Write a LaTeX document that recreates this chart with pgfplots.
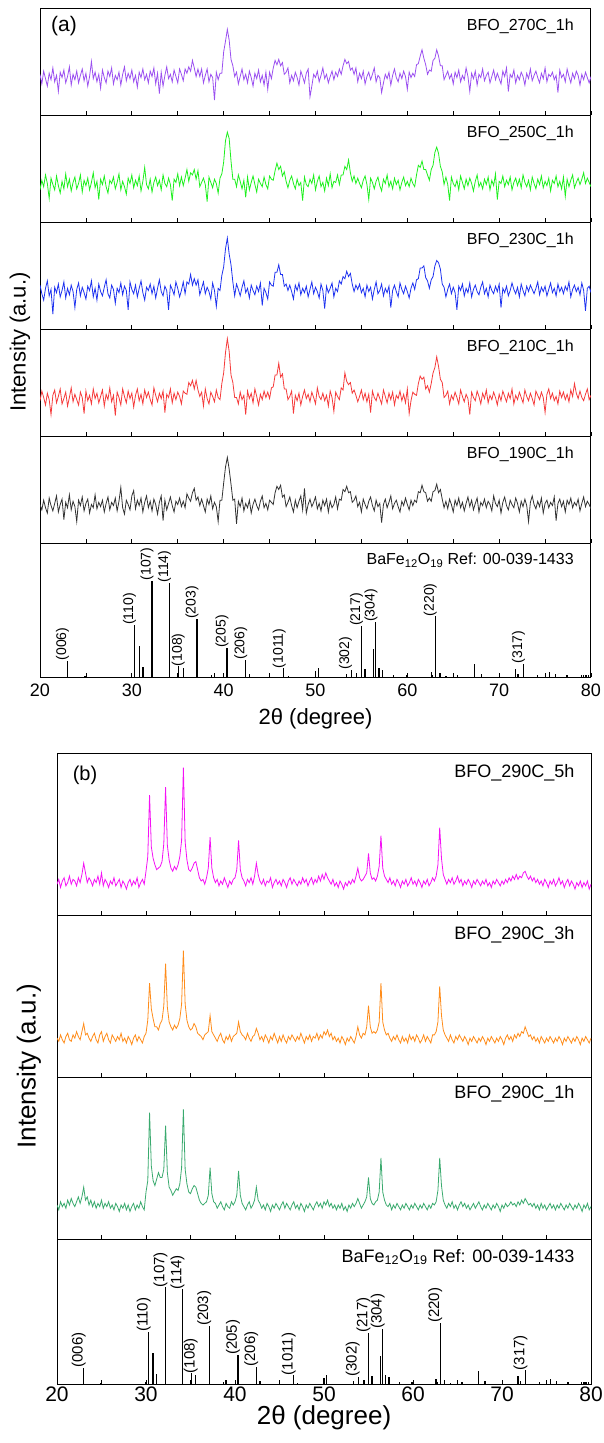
\documentclass[border=0pt]{standalone}
\usepackage{fontspec}
\setmainfont{Liberation Sans}
\usepackage{pgfplots}
\pgfplotsset{compat=1.18}
\usepackage{pgfplotstable}

\definecolor{cP}{HTML}{9B50F0}
\definecolor{cG}{HTML}{1EF01E}
\definecolor{cB}{HTML}{1E32F0}
\definecolor{cR}{HTML}{F53B3B}
\definecolor{cK}{HTML}{333333}
\definecolor{cM}{HTML}{F512F5}
\definecolor{cO}{HTML}{FF8C1A}
\definecolor{cT}{HTML}{3AAA6E}

% panel (a): 1 h samples, intensity in % of panel height
\pgfplotstableread{
x p270 p250 p230 p210 p190
20.0 38 30 41 33 36
20.2 29 39 33 42 31
20.4 41 33 27 36 40
20.6 34 44 38 29 33
20.8 27 36 45 40 28
21.0 39 22 31 34 42
21.2 33 41 37 20 35
21.4 44 35 14 38 30
21.6 31 30 39 43 37
21.8 37 43 34 31 44
22.0 22 34 42 37 29
22.2 40 27 30 44 36
22.4 35 38 36 30 41
22.6 42 31 44 35 22
22.8 30 45 29 41 38
23.0 36 33 38 28 33
23.2 45 40 32 36 45
23.4 28 29 41 45 31
23.6 38 37 35 32 39
23.8 33 42 20 39 34
24.0 41 31 37 34 20
24.2 30 36 43 29 40
24.4 37 44 31 41 35
24.6 43 28 39 36 43
24.8 32 39 34 21 30
25.0 39 34 28 42 37
25.2 27 41 40 33 41
25.4 36 30 36 38 28
25.6 50 37 45 30 36
25.8 34 46 30 44 33
26.0 40 32 38 35 45
26.2 31 38 27 40 32
26.4 38 21 42 31 38
26.6 25 40 35 37 34
26.8 42 35 31 43 40
27.0 35 43 39 28 29
27.2 30 33 46 39 37
27.4 41 27 33 34 43
27.6 36 39 29 45 31
27.8 44 36 41 32 38
28.0 29 42 37 38 35
28.2 37 31 24 19 42
28.4 33 37 38 41 30
28.6 40 45 34 36 39
28.8 28 30 43 29 52
29.0 38 38 32 44 33
29.2 45 33 40 37 27
29.4 32 26 36 31 40
29.6 39 41 18 42 36
29.8 34 36 44 35 31
30.0 42 44 37 40 44
30.2 31 32 33 27 49
30.4 37 39 41 38 32
30.6 26 34 30 44 40
30.8 40 43 38 33 35
31.0 35 29 45 39 42
31.2 43 38 34 30 29
31.4 33 51 27 43 38
31.6 38 35 39 36 44
31.8 30 31 36 41 33
32.0 41 40 42 34 39
32.2 36 28 33 29 30
32.4 44 37 40 45 41
32.6 29 42 29 38 36
32.8 39 34 38 32 27
33.0 20 39 46 40 38
33.2 40 30 35 35 44
33.4 27 44 31 42 21
33.6 37 36 40 22 40
33.8 45 33 36 39 31
34.0 34 41 18 36 37
34.2 38 35 41 44 43
34.4 31 20 37 31 35
34.6 42 40 32 40 29
34.8 36 37 44 34 39
35.0 30 45 38 41 36
35.2 43 34 30 37 42
35.4 38 42 36 30 34
35.6 32 34 44 42 39
35.8 43 41 33 40 33
36.0 39 49 44 39 46
36.2 45 38 42 50 42
36.4 41 46 51 47 39
36.6 51 44 41 52 47
36.8 44 49 47 44 51
37.0 36 40 41 52 40
37.2 43 48 46 43 43
37.4 36 33 32 37 35
37.6 43 37 38 41 41
37.8 30 41 44 28 35
38.0 37 35 33 44 29
38.2 43 19 39 35 41
38.4 31 42 35 30 36
38.6 38 37 28 41 44
38.8 35 32 43 37 32
39.0 14 40 36 32 38
39.2 40 36 21 43 34
39.4 33 27 38 36 20
39.6 39 41 36 34 40
39.8 39 45 50 49 40
40.0 59 56 58 59 56
40.2 69 76 75 78 71
40.4 80 84 85 91 80
40.6 70 78 70 79 69
40.8 52 57 60 57 55
41.0 46 40 44 50 40
41.2 36 40 31 36 41
41.4 40 33 42 36 18
41.6 29 44 37 30 39
41.8 36 38 31 41 34
42.0 43 31 39 34 42
42.2 33 39 45 38 30
42.4 38 23 34 20 37
42.6 30 42 38 42 33
42.8 41 30 29 35 40
43.0 35 37 41 40 28
43.2 27 43 36 31 36
43.4 39 35 32 44 41
43.6 34 28 40 37 35
43.8 42 40 35 29 31
44.0 31 36 43 39 39
44.2 37 33 22 34 44
44.4 28 42 38 42 33
44.6 40 35 34 36 37
44.8 24 31 28 41 31
45.0 40 43 44 35 40
45.2 34 40 41 45 38
45.4 44 39 40 46 36
45.6 51 48 53 57 47
45.8 47 55 53 57 53
46.0 52 49 60 68 50
46.2 46 52 51 55 54
46.4 49 43 51 58 43
46.6 38 47 40 44 45
46.8 40 38 42 44 34
47.0 44 32 36 34 38
47.2 30 39 41 37 43
47.4 37 43 35 42 35
47.6 32 36 28 21 29
47.8 40 31 41 38 40
48.0 35 40 36 33 33
48.2 28 34 43 40 39
48.4 41 37 32 29 44
48.6 36 20 38 37 31
48.8 30 42 34 43 51
49.0 39 35 40 35 28
49.2 43 33 30 39 36
49.4 17 40 37 32 41
49.6 27 36 44 41 34
49.8 38 44 33 36 38
50.0 35 30 39 30 43
50.2 41 38 35 45 32
50.4 31 43 29 37 37
50.6 37 33 42 34 30
50.8 44 37 36 40 40
51.0 34 29 19 33 35
51.2 38 41 40 38 41
51.4 30 34 34 28 29
51.6 36 45 38 42 39
51.8 41 32 43 36 33
52.0 33 38 30 23 36
52.2 40 37 38 41 43
52.4 36 44 35 37 32
52.6 43 35 45 34 41
52.8 38 44 42 45 40
53.0 46 44 49 43 50
53.2 52 52 47 59 48
53.4 48 49 54 51 53
53.6 50 58 49 48 47
53.8 42 46 52 50 48
54.0 44 38 42 40 38
54.2 38 43 35 43 40
54.4 44 36 41 38 44
54.6 31 41 37 32 34
54.8 39 36 42 37 38
55.0 34 32 34 43 29
55.2 41 39 38 34 41
55.4 29 43 30 40 36
55.6 36 35 41 32 32
55.8 40 21 35 39 39
56.0 33 41 39 22 43
56.2 38 37 28 42 35
56.4 44 31 37 36 30
56.6 31 38 44 33 40
56.8 37 42 33 40 34
57.0 35 34 36 35 37
57.2 21 29 42 30 19
57.4 30 40 31 43 36
57.6 38 36 38 37 41
57.8 34 44 34 31 33
58.0 40 33 40 40 38
58.2 28 38 20 34 44
58.4 37 31 36 41 32
58.6 43 41 41 29 37
58.8 35 35 35 38 40
59.0 31 39 30 35 34
59.2 39 30 43 42 29
59.4 34 37 37 33 39
59.6 41 42 33 39 35
59.8 36 34 40 31 42
60.0 24 38 35 44 36
60.2 40 33 29 21 31
60.4 35 41 38 33 40
60.6 39 36 43 41 35
60.8 36 33 37 39 40
61.0 47 44 46 38 38
61.2 48 53 47 49 48
61.4 55 51 57 56 47
61.6 61 57 57 53 54
61.8 53 49 59 55 48
62.0 47 49 48 44 47
62.2 38 44 45 47 39
62.4 42 39 38 41 42
62.6 41 49 46 49 39
62.8 51 53 49 59 48
63.0 53 65 59 64 49
63.2 61 70 64 74 55
63.4 55 64 62 65 47
63.6 46 52 56 53 50
63.8 46 47 42 50 41
64.0 33 35 39 36 33
64.2 37 42 30 38 39
64.4 41 35 37 42 32
64.6 34 20 42 30 41
64.8 38 42 33 38 36
65.0 29 36 39 34 29
65.2 40 33 34 41 40
65.4 35 39 18 36 35
65.6 42 30 40 30 42
65.8 31 43 36 43 33
66.0 37 37 42 37 38
66.2 33 31 31 32 30
66.4 44 40 38 39 37
66.6 36 34 34 35 43
66.8 22 41 43 20 34
67.0 39 36 30 41 40
67.2 34 29 37 36 31
67.4 41 38 41 33 37
67.6 28 44 35 42 42
67.8 38 33 32 37 29
68.0 35 37 39 30 38
68.2 43 31 44 40 35
68.4 32 40 33 35 41
68.6 37 35 38 43 33
68.8 40 42 30 31 39
69.0 30 30 41 38 36
69.2 36 39 36 34 30
69.4 42 34 33 41 44
69.6 33 45 40 36 37
69.8 39 21 35 29 34
70.0 34 38 42 39 40
70.2 29 36 20 33 28
70.4 41 43 38 42 38
70.6 36 33 34 37 43
70.8 44 39 40 32 35
71.0 22 35 31 40 31
71.2 38 42 36 35 40
71.4 35 30 43 44 36
71.6 42 37 37 30 33
71.8 30 41 33 38 42
72.0 37 34 39 34 37
72.2 33 40 30 41 29
72.4 40 32 42 36 39
72.6 36 44 36 31 34
72.8 28 37 31 43 41
73.0 39 33 40 37 35
73.2 34 39 35 33 20
73.4 43 30 41 40 38
73.6 32 42 37 35 44
73.8 37 36 33 29 36
74.0 41 31 38 42 32
74.2 35 40 44 38 39
74.4 30 35 32 34 34
74.6 39 43 39 41 42
74.8 34 32 35 36 28
75.0 44 38 40 22 37
75.2 31 34 31 39 40
75.4 38 41 37 44 33
75.6 36 29 43 35 38
75.8 40 39 34 40 35
76.0 33 36 38 33 43
76.2 37 43 31 37 21
76.4 21 33 42 30 37
76.6 42 38 35 42 41
76.8 35 31 39 36 34
77.0 38 42 33 41 39
77.2 31 24 40 34 29
77.4 43 40 36 39 40
77.6 36 33 44 32 36
77.8 30 39 30 43 42
78.0 39 44 37 37 33
78.2 34 32 41 49 38
78.4 41 37 35 40 35
78.6 37 41 39 35 41
78.8 28 35 32 42 30
79.0 38 40 43 36 37
79.2 33 46 36 33 43
79.4 40 36 17 39 34
79.6 35 41 38 44 39
79.8 30 37 40 34 36
80.0 36 33 34 38 32
}\dataA

% panel (b): 290 C samples
\pgfplotstableread{
x h5 h3 h1
20.0 19 24 21
20.2 22 22 18
20.4 17 26 23
20.6 21 23 20
20.8 23 21 22
21.0 18 25 19
21.2 20 27 24
21.4 24 23 21
21.6 19 22 25
21.8 22 26 22
22.0 21 24 20
22.2 18 28 23
22.4 23 25 26
22.6 20 23 22
22.8 25 28 26
23.0 32 33 32
23.2 26 26 24
23.4 20 27 26
23.6 23 24 21
23.8 21 22 24
24.0 18 25 20
24.2 22 27 23
24.4 20 23 19
24.6 24 21 22
24.8 19 26 20
25.0 26 28 24
25.2 18 22 19
25.4 22 25 22
25.6 20 27 20
25.8 17 23 23
26.0 21 21 19
26.2 19 26 21
26.4 23 24 18
26.6 18 22 22
26.8 20 25 20
27.0 22 23 17
27.2 17 27 21
27.4 21 22 19
27.6 19 24 22
27.8 16 21 18
28.0 20 25 21
28.2 22 23 17
28.4 18 20 20
28.6 21 24 22
28.8 19 26 18
29.0 23 22 21
29.2 17 25 19
29.4 20 23 23
29.6 22 21 20
29.8 19 25 18
30.0 27 27 29
30.2 36 35 36
30.4 74 58 78
30.6 42 42 45
30.8 35 36 36
31.0 31 31 33
31.2 28 31 37
31.4 29 29 41
31.6 30 33 38
31.8 33 35 38
32.0 44 44 43
32.2 79 70 70
32.4 43 43 41
32.6 34 34 32
32.8 29 31 30
33.0 27 29 27
33.2 30 32 29
33.4 28 30 31
33.6 31 32 30
33.8 36 36 34
34.0 46 45 44
34.2 91 78 80
34.4 45 45 43
34.6 34 35 34
34.8 28 31 29
35.0 27 29 28
35.2 29 30 31
35.4 32 33 33
35.6 33 31 32
35.8 28 27 28
36.0 23 26 24
36.2 21 25 22
36.4 22 23 21
36.6 19 26 22
36.8 23 27 23
37.0 29 28 27
37.2 48 38 44
37.4 29 28 28
37.6 23 26 23
37.8 20 24 22
38.0 22 22 19
38.2 18 25 21
38.4 21 27 23
38.6 19 23 20
38.8 23 21 18
39.0 20 25 22
39.2 17 23 20
39.4 21 26 19
39.6 19 22 23
39.8 22 25 21
40.0 23 26 23
40.2 28 27 27
40.4 46 34 42
40.6 28 28 27
40.8 23 26 22
41.0 21 25 20
41.2 18 23 18
41.4 22 27 21
41.6 20 24 23
41.8 23 22 19
42.0 19 25 21
42.2 24 26 24
42.4 32 30 32
42.6 25 27 24
42.8 21 23 22
43.0 19 25 19
43.2 22 22 21
43.4 18 26 18
43.6 21 24 22
43.8 20 21 20
44.0 23 25 17
44.2 17 23 21
44.4 20 27 19
44.6 22 24 22
44.8 19 21 20
45.0 21 25 18
45.2 18 22 21
45.4 22 26 23
45.6 20 23 19
45.8 17 21 22
46.0 21 25 20
46.2 23 23 18
46.4 19 26 21
46.6 22 24 23
46.8 20 22 19
47.0 18 25 21
47.2 21 23 18
47.4 19 27 22
47.6 23 24 20
47.8 20 21 17
48.0 22 25 21
48.2 18 23 19
48.4 21 26 22
48.6 23 22 20
48.8 19 25 18
49.0 22 24 21
49.2 20 27 23
49.4 24 23 20
49.6 21 26 22
49.8 25 24 19
50.0 22 28 23
50.2 26 26 21
50.4 23 29 24
50.6 21 25 20
50.8 19 27 22
51.0 22 23 19
51.2 18 25 21
51.4 20 22 18
51.6 17 24 21
51.8 21 21 19
52.0 19 25 22
52.2 16 23 18
52.4 20 20 20
52.6 18 24 17
52.8 21 22 21
53.0 19 25 19
53.2 22 23 22
53.4 20 21 20
53.6 24 25 22
53.8 29 31 25
54.0 23 26 22
54.2 21 24 19
54.4 22 27 21
54.6 24 26 23
54.8 26 31 26
55.0 38 44 38
55.2 26 31 25
55.4 22 27 22
55.6 23 28 21
55.8 21 27 23
56.0 24 29 24
56.2 30 34 29
56.4 49 58 50
56.6 29 34 29
56.8 24 29 24
57.0 22 26 21
57.2 20 27 20
57.4 23 24 22
57.6 19 22 18
57.8 21 25 21
58.0 18 23 19
58.2 22 26 22
58.4 20 23 20
58.6 17 21 18
58.8 21 25 21
59.0 19 22 19
59.2 22 24 22
59.4 18 21 20
59.6 20 26 18
59.8 23 23 21
60.0 19 25 19
60.2 21 22 22
60.4 18 26 20
60.6 22 24 18
60.8 20 21 21
61.0 17 23 19
61.2 21 26 22
61.4 19 22 20
61.6 22 25 18
61.8 18 23 21
62.0 20 21 19
62.2 23 26 22
62.4 21 26 21
62.6 24 28 23
62.8 31 34 30
63.0 54 56 50
63.2 35 38 33
63.4 25 29 24
63.6 22 26 21
63.8 19 24 19
64.0 22 22 22
64.2 20 26 20
64.4 23 23 23
64.6 19 21 19
64.8 21 25 21
65.0 24 23 18
65.2 20 26 21
65.4 22 24 23
65.6 18 22 20
65.8 21 25 22
66.0 19 23 19
66.2 22 20 21
66.4 20 24 18
66.6 17 22 20
66.8 21 25 22
67.0 19 23 19
67.2 22 21 21
67.4 20 24 23
67.6 18 22 20
67.8 21 25 18
68.0 19 23 21
68.2 22 20 19
68.4 18 24 22
68.6 20 22 20
68.8 17 25 18
69.0 21 23 21
69.2 19 21 19
69.4 22 24 22
69.6 20 22 20
69.8 18 25 17
70.0 21 23 21
70.2 19 20 19
70.4 22 24 22
70.6 20 26 20
70.8 23 23 21
71.0 21 25 23
71.2 24 22 21
71.4 22 26 22
71.6 25 24 20
71.8 22 27 23
72.0 24 25 21
72.2 23 28 24
72.4 26 27 22
72.6 27 31 25
72.8 24 28 23
73.0 22 25 21
73.2 24 26 22
73.4 21 23 20
73.6 23 25 22
73.8 20 22 19
74.0 22 24 21
74.2 19 21 18
74.4 21 25 22
74.6 18 23 19
74.8 22 21 21
75.0 20 24 18
75.2 17 22 20
75.4 21 25 22
75.6 19 23 19
75.8 22 21 21
76.0 18 24 18
76.2 20 22 21
76.4 23 25 19
76.6 19 23 22
76.8 21 20 20
77.0 17 24 18
77.2 20 22 21
77.4 22 25 19
77.6 18 23 22
77.8 21 21 20
78.0 19 24 18
78.2 16 22 21
78.4 20 25 19
78.6 18 23 22
78.8 21 20 20
79.0 17 24 17
79.2 20 22 21
79.4 18 25 19
79.6 21 23 22
79.8 16 21 18
80.0 19 24 20
}\dataB

% reference pattern 00-039-1433, relative intensity
\pgfplotstableread{
x I
23.0 17
24.9 1
29.95 2
30.3 54
30.8 32
31.2 10
32.2 100
34.1 98
35.1 11
35.6 9.5
37.1 60
38.7 2
39.0 4
40.35 30
42.4 18
42.8 3
46.55 9
47.05 1.5
50.0 6
50.3 9.5
53.35 3
53.9 7.5
54.5 4
55.0 53
55.4 8.5
56.35 29
56.55 57
56.9 9.5
57.3 7
58.5 2.5
59.9 2.5
60.05 2
62.6 5
62.75 2.5
63.05 63
63.55 4
64.2 1
65.5 2.5
67.35 13
68.1 3.5
71.8 8.5
72.05 3.5
72.65 14
74.2 2.5
75.45 5
76.1 3.5
77.4 2.5
78.95 2.5
79.2 2.5
79.45 2.5
79.7 2.5
}\refpat

\newcommand{\hkl}[4]{\node[rotate=90, anchor=west, inner sep=0pt, yshift=5pt,
  font=\fontsize{#4}{#4}\selectfont] at (axis cs:#1,#2) {#3};}

\pgfplotsset{
  xrd/.style={
    scale only axis, anchor=south west,
    xmin=20, xmax=80, ymin=0, ymax=100,
    ytick=\empty, xtick={20,30,...,80}, minor xtick={25,35,...,75},
    xtick pos=bottom, tick align=inside,
    major tick length=4pt, minor tick length=4pt,
    tick style={black, line width=0.8pt},
    axis line style={black, line width=1pt},
    /pgf/number format/assume math mode=true,
  },
  panelA/.style={xrd, width=551pt, height=107pt, xticklabels={}},
  panelB/.style={xrd, width=534pt, height=162pt, xticklabels={}},
}

\begin{document}
\begin{tikzpicture}
\path[use as bounding box] (0pt,0pt) rectangle (604pt,-1443pt);

% ---------- (a) ----------
\begin{axis}[panelA, at={(40pt,-115pt)}]
\addplot[cP, line width=0.8pt] table[x=x, y=p270] {\dataA};
\node[anchor=east, font=\fontsize{16}{16}\selectfont] at (rel axis cs:0.975,0.832) {BFO\_270C\_1h};
\node[font=\fontsize{21}{21}\selectfont] at (rel axis cs:0.0436,0.832) {(a)};
\end{axis}

\begin{axis}[panelA, at={(40pt,-222pt)}]
\addplot[cG, line width=0.8pt] table[x=x, y=p250] {\dataA};
\node[anchor=east, font=\fontsize{16}{16}\selectfont] at (rel axis cs:0.975,0.832) {BFO\_250C\_1h};
\end{axis}

\begin{axis}[panelA, at={(40pt,-329pt)}]
\addplot[cB, line width=0.8pt] table[x=x, y=p230] {\dataA};
\node[anchor=east, font=\fontsize{16}{16}\selectfont] at (rel axis cs:0.975,0.832) {BFO\_230C\_1h};
\end{axis}

\begin{axis}[panelA, at={(40pt,-436pt)}]
\addplot[cR, line width=0.8pt] table[x=x, y=p210] {\dataA};
\node[anchor=east, font=\fontsize{16}{16}\selectfont] at (rel axis cs:0.975,0.832) {BFO\_210C\_1h};
\end{axis}

\begin{axis}[panelA, at={(40pt,-543pt)}]
\addplot[cK, line width=0.8pt] table[x=x, y=p190] {\dataA};
\node[anchor=east, font=\fontsize{16}{16}\selectfont] at (rel axis cs:0.975,0.832) {BFO\_190C\_1h};
\end{axis}

\begin{axis}[xrd, width=551pt, height=134pt, ymax=139, at={(40pt,-677pt)},
  xticklabels={20,30,40,50,60,70,80},
  xticklabel style={font=\fontsize{18}{18}\selectfont, yshift=-3pt}]
\addplot[ycomb, black, line width=1.3pt] table[x=x, y=I] {\refpat};
\node[anchor=east, font=\fontsize{16}{16}\selectfont] at (rel axis cs:0.975,0.873)
  {BaFe\textsubscript{12}O\textsubscript{19} Ref: 00-039-1433};
\hkl{23.0}{17}{(006)}{14}
\hkl{30.3}{54}{(110)}{14}
\hkl{32.2}{100}{(107)}{14}
\hkl{34.1}{98}{(114)}{14}
\hkl{35.6}{11}{(108)}{14}
\hkl{37.1}{60}{(203)}{14}
\hkl{40.35}{30}{(205)}{14}
\hkl{42.4}{18}{(206)}{14}
\hkl{46.6}{9}{(1011)}{14}
\hkl{53.8}{7.5}{(302)}{14}
\hkl{55.0}{53}{(217)}{14}
\hkl{56.6}{57}{(304)}{14}
\hkl{63.05}{63}{(220)}{14}
\hkl{72.65}{14}{(317)}{14}
\end{axis}

\node[font=\fontsize{22}{22}\selectfont] at (315.5pt,-719pt) {2θ (degree)};
\node[rotate=90, font=\fontsize{22}{22}\selectfont] at (20pt,-342pt) {Intensity (a.u.)};

% ---------- (b) ----------
\begin{axis}[panelB, at={(57pt,-915pt)}]
\addplot[cM, line width=0.8pt] table[x=x, y=h5] {\dataB};
\node[anchor=east, font=\fontsize{18}{18}\selectfont] at (rel axis cs:0.9757,0.877) {BFO\_290C\_5h};
\node[font=\fontsize{20}{20}\selectfont] at (rel axis cs:0.0524,0.864) {(b)};
\end{axis}

\begin{axis}[panelB, at={(57pt,-1077pt)}]
\addplot[cO, line width=0.8pt] table[x=x, y=h3] {\dataB};
\node[anchor=east, font=\fontsize{18}{18}\selectfont] at (rel axis cs:0.9757,0.877) {BFO\_290C\_3h};
\end{axis}

\begin{axis}[panelB, at={(57pt,-1239pt)}]
\addplot[cT, line width=0.8pt] table[x=x, y=h1] {\dataB};
\node[anchor=east, font=\fontsize{18}{18}\selectfont] at (rel axis cs:0.9757,0.895) {BFO\_290C\_1h};
\end{axis}

\begin{axis}[xrd, width=534pt, height=145pt, ymax=150, at={(57pt,-1384pt)},
  xticklabels={20,30,40,50,60,70,80},
  xticklabel style={font=\fontsize{21}{21}\selectfont, inner sep=0pt, yshift=-3pt}]
\addplot[ycomb, black, line width=1.3pt] table[x=x, y=I] {\refpat};
\node[anchor=east, font=\fontsize{18}{18}\selectfont] at (rel axis cs:0.9757,0.876)
  {BaFe\textsubscript{12}O\textsubscript{19} Ref: 00-039-1433};
\hkl{23.0}{17}{(006)}{15}
\hkl{30.3}{54}{(110)}{15}
\hkl{32.2}{100}{(107)}{15}
\hkl{34.1}{98}{(114)}{15}
\hkl{35.6}{11}{(108)}{15}
\hkl{37.1}{60}{(203)}{15}
\hkl{40.35}{30}{(205)}{15}
\hkl{42.4}{18}{(206)}{15}
\hkl{46.6}{9}{(1011)}{15}
\hkl{53.8}{7.5}{(302)}{15}
\hkl{55.0}{53}{(217)}{15}
\hkl{56.6}{57}{(304)}{15}
\hkl{63.05}{63}{(220)}{15}
\hkl{72.65}{14}{(317)}{15}
\end{axis}

\node[font=\fontsize{26}{26}\selectfont] at (324pt,-1418pt) {2θ (degree)};
\node[rotate=90, font=\fontsize{26}{26}\selectfont] at (29pt,-1066pt) {Intensity (a.u.)};

\end{tikzpicture}
\end{document}
